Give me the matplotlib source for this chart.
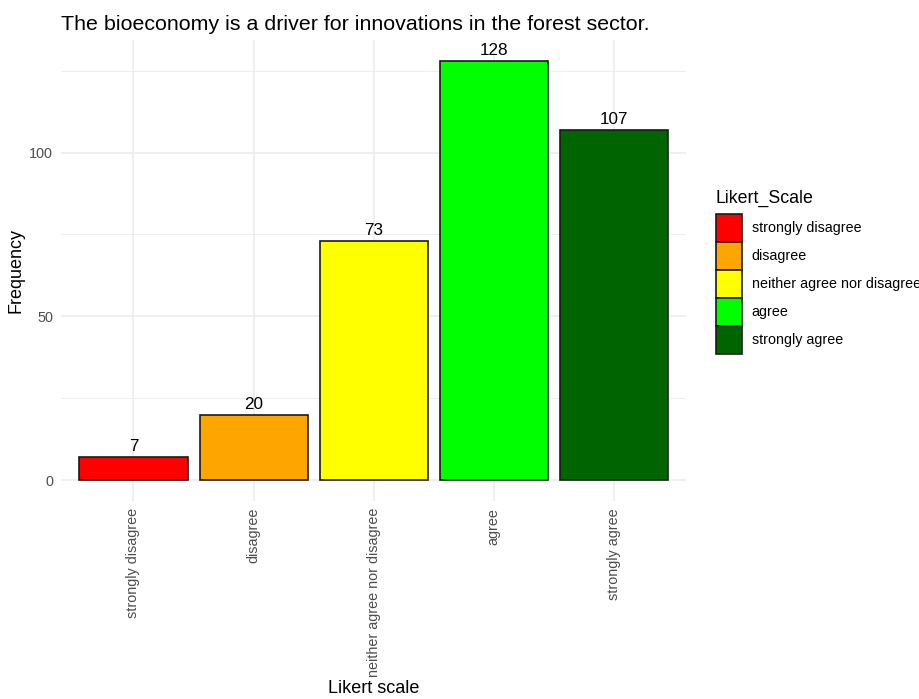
import matplotlib.pyplot as plt
from matplotlib.patches import Patch
from matplotlib.ticker import MultipleLocator

plt.rcParams["font.family"] = ["Liberation Sans", "DejaVu Sans"]

# Likert-Antworten und Häufigkeiten
categories = ["strongly disagree", "disagree", "neither agree nor disagree",
              "agree", "strongly agree"]
counts = [7, 20, 73, 128, 107]
colors = ["#FF0000", "#FFA500", "#FFFF00", "#00FF00", "#006400"]

fig = plt.figure(figsize=(9.2, 6.99), dpi=100)
ax = fig.add_axes([0.0667, 0.2833, 0.6790, 0.6595])

x = list(range(1, len(categories) + 1))
ax.bar(x, counts, width=0.9, color=colors, edgecolor="#1A1A1A",
       linewidth=1.2, zorder=3)
for xi, c in zip(x, counts):
    ax.text(xi, c + 0.8, str(c), ha="center", va="bottom", fontsize=12.3,
            color="black", zorder=4)

ymax = max(counts)
ax.set_xlim(0.4, len(categories) + 0.6)
ax.set_ylim(-0.05 * ymax, 1.05 * ymax)
ax.set_xticks(x)
ax.set_xticklabels(categories, rotation=90, va="top", ha="center",
                   fontsize=10.4, color="#4D4D4D")
ax.yaxis.set_major_locator(MultipleLocator(50))
ax.yaxis.set_minor_locator(MultipleLocator(25))
ax.tick_params(axis="y", labelsize=10.4, labelcolor="#4D4D4D", length=0, pad=6)
ax.tick_params(axis="x", length=0, pad=5)
ax.tick_params(which="minor", length=0)

# Gitterlinien wie theme_minimal
ax.grid(True, which="major", color="#EBEBEB", linewidth=1.1, zorder=0)
ax.grid(True, which="minor", axis="y", color="#EBEBEB", linewidth=0.6, zorder=0)
for s in ax.spines.values():
    s.set_visible(False)

ax.set_ylabel("Frequency", fontsize=13, labelpad=3)
ax.set_xlabel("Likert scale", fontsize=13)
ax.xaxis.set_label_coords(0.5, -(689 - 501) / 461)
ax.xaxis.label.set_va("center")

ax.set_title("The bioeconomy is a driver for innovations in the forest sector.",
             loc="left", fontsize=15.4, pad=7, x=0.0)

# Legende
fig.text(716 / 920, 1 - 198 / 699, "Likert_Scale", fontsize=12.8,
         ha="left", va="center")
handles = [Patch(facecolor=c, edgecolor="#1A1A1A", linewidth=1.2) for c in colors]
fig.legend(handles, categories, loc="upper left",
           bbox_to_anchor=(716 / 920, 1 - 214 / 699), frameon=False,
           fontsize=10.3, handlelength=1.8, handleheight=2.63,
           labelspacing=0.0, handletextpad=0.7, borderaxespad=0, borderpad=0)

fig.savefig("out.png", dpi=100)
